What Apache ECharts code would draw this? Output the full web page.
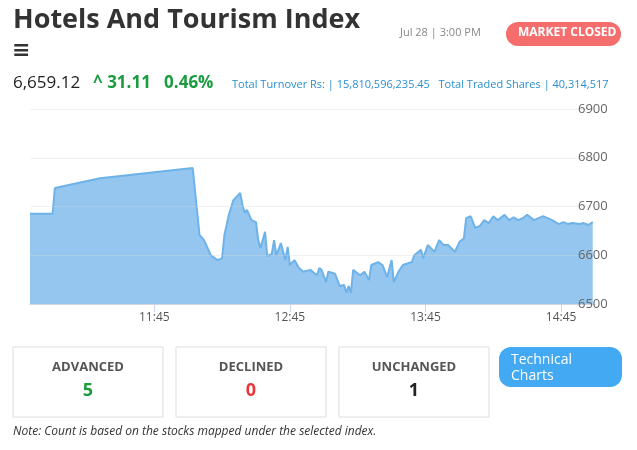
<!DOCTYPE html><html><head><meta charset="utf-8">
<script src="https://cdn.jsdelivr.net/npm/echarts@6/dist/echarts.min.js"></script>
<style>body{margin:0;font-family:"Open Sans",sans-serif}#c{width:637px;height:450px}</style></head><body><div id="c"></div><script>
const times=["10:50","11:00","11:01","11:21","12:02","12:05","12:07","12:10","12:13","12:15","12:16","12:18","12:20","12:23","12:24","12:25","12:26","12:28","12:30","12:31","12:32","12:34","12:35","12:37","12:38","12:39","12:41","12:43","12:44","12:45","12:47","12:49","12:51","12:54","12:57","12:58","12:59","13:01","13:02","13:05","13:07","13:09","13:10","13:11","13:12","13:13","13:16","13:18","13:20","13:21","13:24","13:26","13:28","13:30","13:31","13:33","13:35","13:39","13:40","13:43","13:44","13:46","13:49","13:51","13:53","13:55","13:58","14:00","14:02","14:03","14:05","14:07","14:09","14:11","14:13","14:15","14:17","14:20","14:22","14:24","14:26","14:28","14:30","14:33","14:35","14:37","14:39","14:41","14:44","14:46","14:48","14:50","14:53","14:55","14:57","14:59"];
const values=[6685,6685,6738,6758,6779,6642,6631,6600,6590,6594,6641,6683,6713,6728,6703,6687,6693,6672,6668,6631,6615,6648,6598,6603,6631,6600,6625,6590,6617,6580,6590,6574,6566,6570,6559,6574,6570,6545,6566,6562,6537,6539,6523,6537,6523,6570,6559,6566,6549,6580,6586,6580,6555,6590,6545,6566,6580,6586,6600,6611,6594,6621,6607,6631,6621,6621,6607,6627,6635,6676,6680,6656,6660,6672,6666,6680,6672,6683,6672,6678,6672,6676,6683,6672,6676,6680,6676,6672,6664,6668,6664,6666,6664,6666,6662,6668];
const yTicks=[6500,6600,6700,6800,6900];
const xTicks=["11:45","12:45","13:45","14:45"];
const stats=[{l:"ADVANCED",v:5,c:"#1a9c3e"},{l:"DECLINED",v:0,c:"#e8373b"},{l:"UNCHANGED",v:1,c:"#222"}];
const toMin=t=>{const[a,b]=t.split(":").map(Number);return a*60+b;};
const fmt=m=>Math.floor(m/60)+":"+String(m%60).padStart(2,"0");
const ch=echarts.init(document.getElementById('c'));
const g=[
{type:'text',left:13,top:7,style:{text:'Hotels And Tourism Index',font:'bold 27px "Open Sans"',fill:'#333'}},
{type:'text',left:400,top:27,style:{text:'Jul 28 | 3:00 PM',font:'11px "Open Sans"',fill:'#888'}},
{type:'rect',shape:{x:506,y:22,width:115,height:24,r:12},style:{fill:'#f56d6d'}},
{type:'text',left:518,top:27,style:{text:'MARKET CLOSED',font:'bold 12px "Open Sans"',fill:'#fff'}},
{type:'text',left:12,top:40,style:{text:'≡',font:'bold 22px "DejaVu Sans"',fill:'#333'}},
{type:'text',left:13,top:75,style:{text:'6,659.12',font:'17px "Open Sans"',fill:'#222'}},
{type:'text',left:93,top:75,style:{text:'^ 31.11   0.46%',font:'bold 17px "Open Sans"',fill:'#1a9c3e'}},
{type:'text',left:232,top:79,style:{text:'Total Turnover Rs: | 15,810,596,235.45   Total Traded Shares | 40,314,517',font:'11px "Open Sans"',fill:'#2a8fd0'}},
{type:'rect',shape:{x:499,y:347,width:123,height:40,r:12},style:{fill:'#42a9f2'}},
{type:'text',left:511,top:352,style:{text:'Technical\nCharts',font:'14px "Open Sans"',fill:'#fff',lineHeight:16}},
{type:'text',left:13,top:426,style:{text:'Note: Count is based on the stocks mapped under the selected index.',font:'italic 12px "Open Sans"',fill:'#333'}}];
stats.forEach((s,i)=>{const x=13+i*163;
g.push({type:'rect',shape:{x:x,y:347,width:150,height:70},style:{fill:'#fff',stroke:'#ddd',lineWidth:1}});
g.push({type:'text',x:x+75,y:361,style:{text:s.l,font:'bold 13px "Open Sans"',fill:'#555',align:'center'}});
g.push({type:'text',x:x+75,y:382,style:{text:String(s.v),font:'bold 18px "Open Sans"',fill:s.c,align:'center'}});});
ch.setOption({animation:false,graphic:g,
grid:{left:30,right:42,top:109,bottom:146},
xAxis:{type:'value',min:toMin("10:50"),max:toMin("15:00"),splitLine:{show:false},
axisLine:{lineStyle:{color:'#ccd6eb'}},
axisTick:{show:true,customValues:xTicks.map(toMin),lineStyle:{color:'#ccd6eb'},length:8},
axisLabel:{customValues:xTicks.map(toMin),formatter:v=>fmt(v),color:'#555',fontSize:12,fontFamily:'Open Sans'}},
yAxis:{type:'value',position:'right',min:6500,max:6900,interval:100,z:10,axisLine:{show:false},axisTick:{show:false},
axisLabel:{margin:-17,color:'#666',fontSize:13,fontFamily:'Open Sans',verticalAlign:'middle',padding:[0,0,10,0],formatter:v=>String(v)},
splitLine:{lineStyle:{color:'rgba(215,215,215,0.35)'}}},
series:[{type:'line',symbol:'none',z:2,data:times.map((t,i)=>[toMin(t),values[i]]),
lineStyle:{color:'#6db3e9',width:2},areaStyle:{color:'#94c6ef',opacity:1}}]});
</script></body></html>
